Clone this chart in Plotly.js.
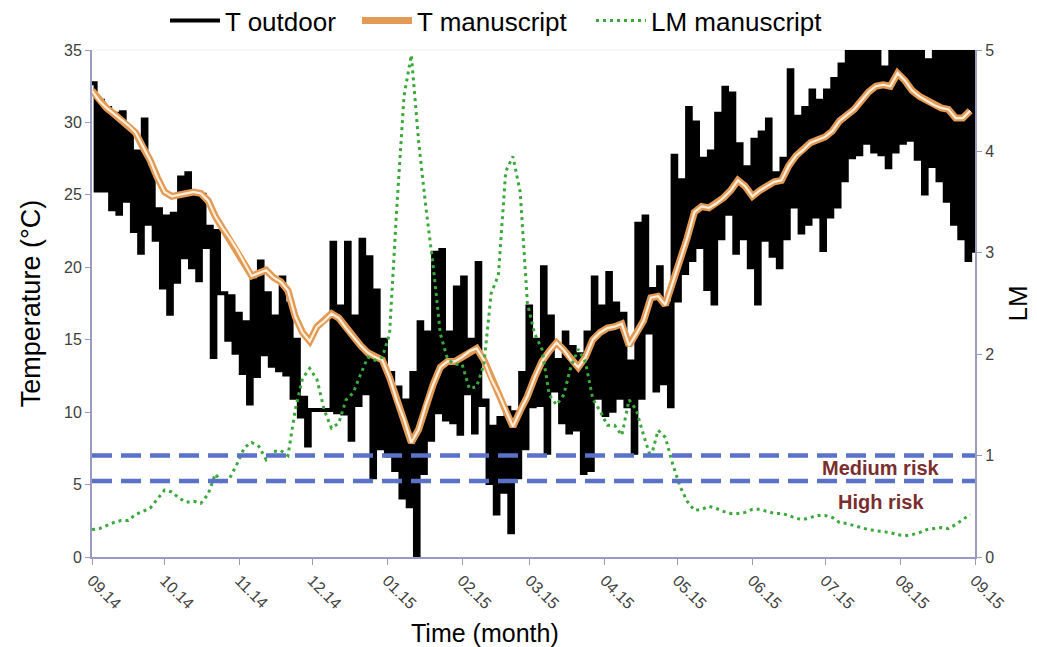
<!DOCTYPE html>
<html>
<head>
<meta charset="utf-8">
<script src="https://cdn.plot.ly/plotly-3.0.1.min.js"></script>
<style>html,body{margin:0;padding:0;background:#fff;}#chart{width:1037px;height:647px;}</style>
</head>
<body>
<div id="chart"></div>
<script>
// ---- data (one sample every 3 days, starting 2014-09-01) ----
var startDate = '2014-09-01';
var stepDays = 3;

// T outdoor: daily-maximum and daily-minimum envelope (°C)
var tOutdoorHigh = [32.7,31.5,31.0,30.6,30.7,29.5,28.0,30.2,26.9,24.0,23.5,23.7,26.2,26.5,24.9,25.0,22.8,22.5,18.2,18.0,
  16.8,16.2,19.1,20.4,18.2,16.6,19.3,17.5,15.0,11.0,10.15,10.15,10.15,21.7,17.3,21.7,16.6,21.9,20.7,18.4,
  15.0,12.7,11.7,10.8,12.7,16.2,15.5,21.0,21.2,15.5,18.6,19.3,15.0,20.3,10.8,9.0,9.6,10.3,10.0,12.7,
  17.3,15.0,20.0,16.6,13.6,15.5,14.5,14.0,15.5,19.3,17.3,19.6,17.5,16.8,13.5,23.0,23.5,18.5,20.0,17.5,
  27.7,26.0,31.0,30.0,27.5,28.0,30.6,32.4,32.0,28.5,26.9,28.8,29.3,30.2,26.5,27.5,33.6,30.4,31.0,32.2,
  31.5,32.2,33.0,34.0,36.5,36.5,36.5,36.5,36.5,33.8,36.5,36.5,36.5,36.5,36.0,34.3,36.5,36.5,36.5,36.5,
  36.5,36.5];
var tOutdoorLow = [25.3,25.3,24.0,23.7,24.6,22.5,21.0,23.0,21.9,18.6,16.8,19.0,20.7,20.0,19.1,21.4,13.8,18.2,15.0,14.1,
  12.7,10.6,12.5,14.0,13.2,12.9,12.6,11.0,9.7,7.7,10.15,10.15,10.15,10.0,9.9,8.1,10.5,11.3,5.5,7.5,
  7.0,6.0,4.1,3.5,0.0,5.8,8.1,10.0,9.5,9.3,8.5,11.3,8.6,10.5,5.1,3.0,4.5,1.7,5.5,7.5,
  10.4,10.5,7.2,11.5,9.3,8.6,8.8,5.8,6.0,11.0,9.8,10.1,11.0,10.4,7.2,11.0,15.5,11.5,12.0,10.4,
  17.7,19.6,20.5,21.4,18.5,17.5,22.0,23.7,21.0,22.0,20.0,17.5,21.9,20.8,20.0,22.0,24.2,22.4,23.0,23.5,
  21.2,23.5,24.2,26.0,27.6,27.8,28.6,28.0,27.8,26.9,28.0,28.6,28.8,27.5,25.1,27.0,26.0,24.6,23.0,22.0,
  20.5,21.0];

// T manuscript (°C)
var tManuscript = [32.2,31.5,31.0,30.6,30.2,29.8,29.3,28.3,27.4,26.2,25.2,24.9,25.0,25.1,25.2,25.1,24.6,23.5,22.7,22.0,
  21.2,20.3,19.4,19.6,19.8,19.3,19.0,18.4,16.6,15.5,14.9,15.9,16.3,16.8,16.5,15.8,15.2,14.6,14.1,13.8,
  13.6,12.4,10.8,9.5,7.9,8.8,10.5,11.9,13.1,13.5,13.5,13.8,14.2,14.4,13.6,12.3,11.3,10.1,9.0,10.1,
  11.1,12.4,13.5,14.2,14.8,14.3,13.6,13.1,13.8,15.0,15.5,15.8,15.9,16.1,14.6,15.4,16.3,17.9,18.0,17.4,
  18.9,20.5,22.0,23.8,24.2,24.1,24.4,24.8,25.3,26.0,25.6,24.9,25.3,25.6,25.9,26.0,27.0,27.7,28.1,28.6,
  28.8,29.0,29.4,30.1,30.5,30.9,31.5,32.1,32.5,32.6,32.5,33.4,32.9,32.2,31.8,31.5,31.2,31.0,30.9,30.3,
  30.3,30.8];

// LM manuscript (right axis)
var lmManuscript = [0.27,0.28,0.31,0.34,0.36,0.36,0.42,0.45,0.48,0.57,0.66,0.64,0.58,0.54,0.55,0.53,0.62,0.82,0.72,0.78,
  0.92,1.08,1.13,1.09,0.96,1.04,1.05,1.00,1.45,1.76,1.86,1.75,1.45,1.27,1.32,1.55,1.62,1.80,1.97,1.94,
  1.97,2.20,3.45,4.55,4.95,4.10,3.45,2.88,2.20,1.95,1.90,1.90,1.66,1.68,1.90,2.60,2.78,3.80,3.95,3.60,
  2.50,2.20,2.05,1.60,1.50,1.60,1.88,2.05,1.92,1.56,1.44,1.30,1.30,1.20,1.55,1.45,1.20,0.98,1.25,1.18,
  0.92,0.70,0.55,0.46,0.47,0.50,0.48,0.45,0.43,0.43,0.44,0.47,0.47,0.45,0.43,0.43,0.41,0.38,0.37,0.39,
  0.41,0.41,0.39,0.34,0.33,0.31,0.29,0.27,0.26,0.25,0.24,0.22,0.21,0.22,0.24,0.27,0.28,0.29,0.28,0.32,
  0.37,0.42];

var riskLevels = [1, 0.75];
var riskLabels = ['Medium risk', 'High risk'];
var riskLabelLM = [0.88, 0.54];
var riskLabelDate = '2015-07-24';

var xRange = ['2014-09-01', '2015-09-01'];
var xTitle = 'Time (month)';

// ---- build traces ----
function dateAt(dayOffset) {
  var d = new Date(startDate + 'T00:00:00Z');
  d.setTime(d.getTime() + dayOffset * 86400000);
  return d.toISOString().slice(0, 19).replace('T', ' ');
}
var xs = tManuscript.map(function (_, i) { return dateAt(i * stepDays); });

var outX = [], outY = [];
for (var i = 0; i < tOutdoorHigh.length; i++) {
  outX.push(dateAt(i * stepDays)); outY.push(tOutdoorHigh[i]);
  outX.push(dateAt(i * stepDays + stepDays / 2)); outY.push(tOutdoorLow[i]);
}

var axisColor = '#9a9ac2';
var fam = 'Liberation Sans, Arial, sans-serif';
var tickFont = {family: fam, size: 16, color: '#404040'};

var traces = [
  {x: outX, y: outY, type: 'scatter', mode: 'lines', name: 'T outdoor', legend: 'legend',
   line: {color: '#000000', width: 4, shape: 'hv'}},
  {x: xs, y: tManuscript, type: 'scatter', mode: 'lines', name: 'T manuscript', legend: 'legend2',
   line: {color: '#e39a55', width: 7}},
  {x: xs, y: tManuscript, type: 'scatter', mode: 'lines', name: 'T manuscript core', showlegend: false,
   line: {color: '#fff0dd', width: 2.2}},
  {x: xs, y: lmManuscript, type: 'scatter', mode: 'lines', name: 'LM manuscript', yaxis: 'y2', legend: 'legend3',
   line: {color: '#3aa83a', width: 3, dash: '3px,4px'}}
];

var shapes = riskLevels.map(function (v) {
  return {type: 'line', xref: 'paper', x0: 0, x1: 1, yref: 'y2', y0: v, y1: v,
          line: {color: '#5a72c8', width: 4.5, dash: '20px,9px'}, layer: 'above'};
});
shapes.push({type: 'line', xref: 'paper', x0: 0, x1: 1, yref: 'paper', y0: 1, y1: 1,
             line: {color: '#eeeeee', width: 1}, layer: 'below'});

var annotations = riskLabels.map(function (t, k) {
  return {x: riskLabelDate, y: riskLabelLM[k], xref: 'x', yref: 'y2', text: '<b>' + t + '</b>',
          showarrow: false, font: {family: fam, size: 20, color: '#7a2e2e'}};
});
annotations.push({x: 0.445, xref: 'paper', y: -0.15, yref: 'paper', yanchor: 'middle',
                  text: xTitle, showarrow: false,
                  font: {family: fam, size: 25, color: '#000'}});

function legendAt(px) {
  return {orientation: 'h', xref: 'container', x: px / 1037, xanchor: 'left',
          yref: 'container', y: 0.968, yanchor: 'middle',
          font: {family: fam, size: 26, color: '#000'},
          itemwidth: 50, bgcolor: 'rgba(0,0,0,0)'};
}

var layout = {
  width: 1037, height: 647, autosize: false,
  margin: {l: 92, r: 62, t: 50, b: 90},
  paper_bgcolor: '#ffffff', plot_bgcolor: '#ffffff',
  showlegend: true,
  legend: legendAt(165), legend2: legendAt(357), legend3: legendAt(591),
  xaxis: {type: 'date', range: xRange, dtick: 'M1', tick0: '2014-09-01', tickformat: '%m.%y',
          tickangle: 45, ticks: 'outside', ticklen: 6, tickcolor: axisColor,
          showline: true, linecolor: axisColor, linewidth: 2, showgrid: false, zeroline: false,
          tickfont: tickFont},
  yaxis: {range: [0, 35], dtick: 5, ticks: 'outside', ticklen: 5, tickcolor: axisColor,
          showline: true, linecolor: axisColor, linewidth: 2, showgrid: false, zeroline: false,
          tickfont: tickFont,
          title: {text: 'Temperature (°C)', font: {family: fam, size: 27, color: '#000'}, standoff: 16}},
  yaxis2: {range: [0, 5], dtick: 1, overlaying: 'y', side: 'right', ticks: 'outside', ticklen: 5, tickcolor: axisColor,
           showline: true, linecolor: axisColor, linewidth: 2, showgrid: false, zeroline: false,
           tickfont: tickFont,
           title: {text: 'LM', font: {family: fam, size: 26, color: '#000'}, standoff: 16}},
  shapes: shapes,
  annotations: annotations
};

Plotly.newPlot('chart', traces, layout, {displayModeBar: false, staticPlot: true});
</script>
</body>
</html>
